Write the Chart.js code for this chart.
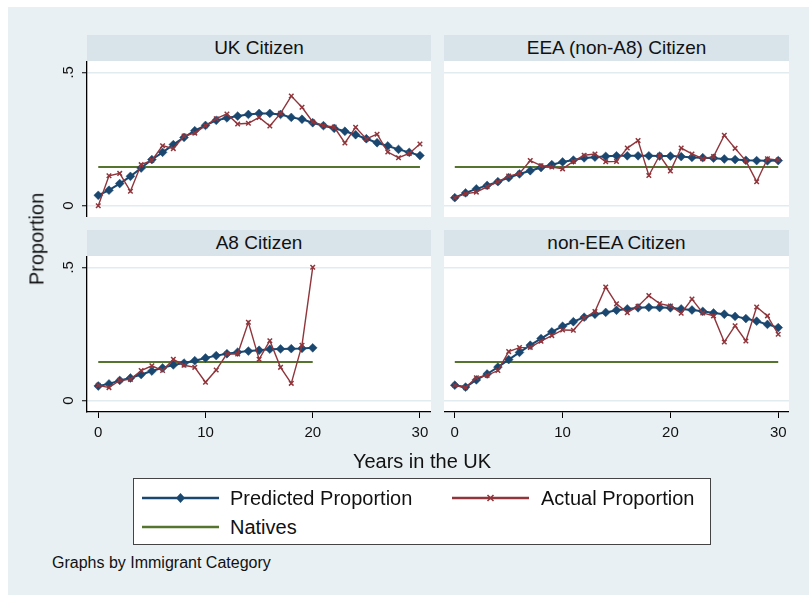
<!DOCTYPE html>
<html>
<head>
<meta charset="utf-8">
<script src="https://cdn.jsdelivr.net/npm/chart.js@4.4.1/dist/chart.umd.min.js"></script>
<style>
  html, body { margin: 0; padding: 0; background: #ffffff; }
  body { width: 809px; height: 595px; position: relative; overflow: hidden;
         font-family: "Liberation Sans", Arial, sans-serif; color: #111; }
  #frame { position: absolute; left: 8px; top: 7px; right: 0; bottom: 0; background: #e8f0f3; }
  .strip { position: absolute; background: #d8e4ea; font-size: 19px; text-align: center;
           line-height: 26px; height: 26px; white-space: nowrap; }
  .panel { position: absolute; }
  #ytitle { position: absolute; left: 37px; top: 239px; font-size: 20px; white-space: nowrap;
            transform: translate(-50%, -50%) rotate(-90deg); }
  #xtitle { position: absolute; left: 422px; top: 461px; font-size: 20px; white-space: nowrap;
            transform: translate(-50%, -50%); }
  #legend { position: absolute; left: 133px; top: 478px; width: 576px; height: 65px;
            background: #fff; border: 1px solid #444; }
  .item { position: absolute; font-size: 20px; white-space: nowrap; line-height: 20px; }
  .item svg { position: absolute; left: 0; top: 0; }
  .item span { position: absolute; top: 0; }
  #note { position: absolute; left: 52px; top: 554px; font-size: 16px; white-space: nowrap; }
</style>
</head>
<body>
<div id="frame"></div>

<div class="strip" style="left:87px;top:35px;width:344px;">UK Citizen</div>
<div class="strip" style="left:444px;top:35px;width:345px;">EEA (non-A8) Citizen</div>
<div class="strip" style="left:87px;top:230px;width:344px;">A8 Citizen</div>
<div class="strip" style="left:444px;top:230px;width:345px;">non-EEA Citizen</div>

<div class="panel" style="left:30px;top:61px;width:401px;height:156px;"><canvas id="cUK"></canvas></div>
<div class="panel" style="left:444px;top:61px;width:345px;height:156px;"><canvas id="cEEA"></canvas></div>
<div class="panel" style="left:30px;top:256px;width:401px;height:195px;"><canvas id="cA8"></canvas></div>
<div class="panel" style="left:444px;top:256px;width:345px;height:195px;"><canvas id="cNonEEA"></canvas></div>

<div id="ytitle">Proportion</div>
<div id="xtitle">Years in the UK</div>

<div id="legend">
  <div class="item" style="left:8px;top:9px;">
    <svg width="80" height="20"><line x1="0" y1="10" x2="77" y2="10" stroke="#1a476f" stroke-width="2.5"/>
      <polygon points="38.5,5 43,10 38.5,15 34,10" fill="#1a476f"/></svg>
    <span style="left:88px;">Predicted Proportion</span>
  </div>
  <div class="item" style="left:318px;top:9px;">
    <svg width="80" height="20"><line x1="0" y1="10" x2="77" y2="10" stroke="#90353b" stroke-width="2.5"/>
      <path d="M35.5 7 L41.5 13 M41.5 7 L35.5 13" stroke="#90353b" stroke-width="1.6"/></svg>
    <span style="left:89px;">Actual Proportion</span>
  </div>
  <div class="item" style="left:8px;top:38px;">
    <svg width="80" height="20"><line x1="0" y1="10" x2="77" y2="10" stroke="#55752f" stroke-width="2.5"/></svg>
    <span style="left:88px;">Natives</span>
  </div>
</div>

<div id="note">Graphs by Immigrant Category</div>

<script>
// Years since arrival (0-30; A8 series stop at 20)
const years = [0,1,2,3,4,5,6,7,8,9,10,11,12,13,14,15,16,17,18,19,20,21,22,23,24,25,26,27,28,29,30];
const xTicks = [0, 10, 20, 30];
const yTicks = [0, 0.5];

// Proportion for natives (reference level)
const nativesLevel = 0.145;

// UK citizens
const ukPredicted = [0.039,0.058,0.083,0.110,0.141,0.173,0.200,0.229,0.256,0.281,0.301,0.320,0.329,0.336,0.342,0.346,0.346,0.342,0.331,0.324,0.311,0.300,0.290,0.279,0.266,0.251,0.236,0.224,0.211,0.200,0.188];
const ukActual    = [0.000,0.112,0.121,0.054,0.154,0.170,0.225,0.214,0.261,0.272,0.300,0.326,0.344,0.306,0.309,0.331,0.299,0.346,0.411,0.369,0.314,0.300,0.295,0.235,0.294,0.250,0.268,0.201,0.180,0.196,0.231];

// EEA (non-A8) citizens
const eeaPredicted = [0.030,0.048,0.063,0.076,0.090,0.105,0.119,0.131,0.143,0.154,0.164,0.171,0.179,0.182,0.185,0.187,0.187,0.187,0.187,0.186,0.186,0.184,0.181,0.180,0.178,0.175,0.173,0.170,0.169,0.168,0.169];
const eeaActual    = [0.030,0.045,0.051,0.071,0.089,0.111,0.121,0.169,0.150,0.145,0.138,0.166,0.189,0.194,0.165,0.166,0.216,0.244,0.113,0.189,0.130,0.216,0.194,0.176,0.184,0.264,0.215,0.168,0.090,0.176,0.171];

// A8 citizens
const a8Predicted = [0.055,0.063,0.076,0.085,0.098,0.111,0.123,0.134,0.141,0.150,0.160,0.169,0.176,0.182,0.186,0.189,0.193,0.194,0.195,0.196,0.198];
const a8Actual    = [0.058,0.049,0.076,0.080,0.113,0.131,0.113,0.155,0.133,0.125,0.069,0.115,0.176,0.175,0.294,0.155,0.225,0.125,0.065,0.208,0.500];

// non-EEA citizens
const nonEeaPredicted = [0.058,0.051,0.078,0.100,0.126,0.154,0.181,0.208,0.233,0.258,0.279,0.296,0.313,0.324,0.331,0.339,0.344,0.348,0.350,0.349,0.348,0.344,0.340,0.335,0.329,0.324,0.316,0.308,0.298,0.286,0.274];
const nonEeaActual    = [0.058,0.049,0.086,0.095,0.113,0.184,0.199,0.200,0.223,0.244,0.265,0.264,0.310,0.334,0.426,0.363,0.330,0.354,0.394,0.364,0.355,0.328,0.381,0.329,0.318,0.220,0.281,0.224,0.351,0.318,0.249];

const FONT = '"Liberation Sans", Arial, sans-serif';
const NAVY = '#1a476f', MAROON = '#90353b', GREEN = '#55752f';
const GRID = '#e2ebef';

function pairs(vals) {
  return vals.map((v, i) => ({ x: years[i], y: v }));
}

// White plot region behind the series
const plotBackground = {
  id: 'plotBackground',
  beforeDraw(chart) {
    const { ctx, chartArea: a } = chart;
    ctx.save();
    ctx.fillStyle = '#ffffff';
    ctx.fillRect(a.left, a.top, a.right - a.left, a.bottom - a.top);
    ctx.restore();
  }
};

// Vertical (rotated) tick labels on the left axis
const rotatedYLabels = {
  id: 'rotatedYLabels',
  afterDraw(chart, args, opts) {
    if (!opts.show) return;
    const scale = chart.scales.y;
    const { ctx } = chart;
    ctx.save();
    ctx.fillStyle = '#111';
    ctx.font = '15px ' + FONT;
    ctx.textAlign = 'center';
    ctx.textBaseline = 'alphabetic';
    scale.ticks.forEach(t => {
      const py = scale.getPixelForValue(t.value);
      ctx.save();
      ctx.translate(scale.right - 14, py);
      ctx.rotate(-Math.PI / 2);
      ctx.fillText(t.value === 0 ? '0' : String(t.value).replace(/^0/, ''), 0, 0);
      ctx.restore();
    });
    ctx.restore();
  }
};

function makePanel(id, predicted, actual, natEnd, opts) {
  const leftAxis = opts.left, bottomAxis = opts.bottom;
  const xMin = leftAxis ? -1.05 : -1.0;
  const xMax = leftAxis ? 31.03 : 31.0;
  new Chart(document.getElementById(id), {
    type: 'line',
    data: {
      datasets: [
        {
          label: 'Actual Proportion',
          data: pairs(actual),
          order: 1,
          borderColor: MAROON, borderWidth: 1.4,
          pointStyle: 'crossRot', pointRadius: 3.2,
          pointBorderColor: MAROON, pointBorderWidth: 1.5,
          pointBackgroundColor: MAROON,
          tension: 0
        },
        {
          label: 'Predicted Proportion',
          data: pairs(predicted),
          order: 2,
          borderColor: NAVY, borderWidth: 2,
          pointStyle: 'rectRot', pointRadius: 4.4,
          pointBackgroundColor: NAVY, pointBorderColor: NAVY, pointBorderWidth: 0.5,
          tension: 0
        },
        {
          label: 'Natives',
          data: [{ x: 0, y: nativesLevel }, { x: natEnd, y: nativesLevel }],
          order: 3,
          borderColor: GREEN, borderWidth: 2,
          pointRadius: 0,
          tension: 0
        }
      ]
    },
    options: {
      responsive: true,
      maintainAspectRatio: false,
      animation: false,
      events: [],
      layout: { padding: 0, autoPadding: false },
      plugins: {
        legend: { display: false },
        tooltip: { enabled: false },
        rotatedYLabels: { show: leftAxis }
      },
      scales: {
        x: {
          type: 'linear',
          display: bottomAxis,
          min: xMin, max: xMax,
          afterBuildTicks: s => { s.ticks = xTicks.map(v => ({ value: v })); },
          afterFit: s => {
            if (!bottomAxis) return;
            s.height = 39; s.paddingLeft = 0; s.paddingRight = 0;
          },
          grid: { drawOnChartArea: false, drawTicks: true, tickLength: 6, tickColor: '#000', tickWidth: 1 },
          border: { display: true, color: '#000', width: 1.3 },
          ticks: { color: '#111', font: { family: FONT, size: 15 }, padding: 6, maxRotation: 0 }
        },
        y: {
          type: 'linear',
          min: -0.0424, max: 0.5424,
          afterBuildTicks: s => { s.ticks = yTicks.map(v => ({ value: v })); },
          afterFit: s => { s.width = leftAxis ? 57 : 0; s.paddingTop = 0; s.paddingBottom = 0; },
          grid: { color: GRID, lineWidth: 1.5, drawTicks: leftAxis, tickLength: 5, tickColor: '#000', tickWidth: 1 },
          border: { display: leftAxis, color: '#000', width: 1.3 },
          ticks: { display: false }
        }
      }
    },
    plugins: [plotBackground, rotatedYLabels]
  });
}

makePanel('cUK', ukPredicted, ukActual, 30, { left: true, bottom: false });
makePanel('cEEA', eeaPredicted, eeaActual, 30, { left: false, bottom: false });
makePanel('cA8', a8Predicted, a8Actual, 20, { left: true, bottom: true });
makePanel('cNonEEA', nonEeaPredicted, nonEeaActual, 30, { left: false, bottom: true });
</script>
</body>
</html>
